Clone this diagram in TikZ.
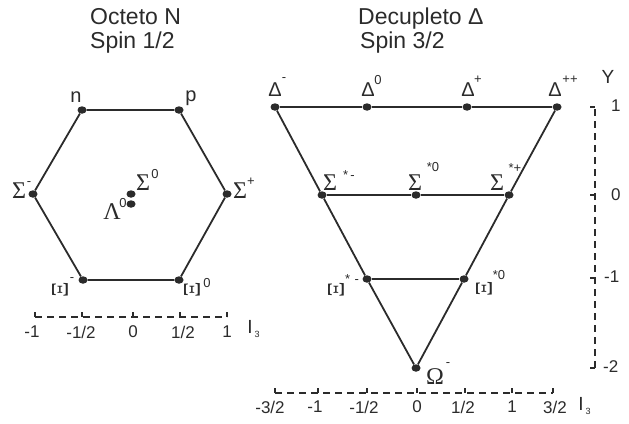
\documentclass[tikz,border=0pt]{standalone}
\usepackage{fontspec}
\setmainfont{Liberation Sans}
\newfontfamily\grfont{Liberation Serif}
\usetikzlibrary{shapes.geometric}
\definecolor{ink}{HTML}{2B2B2B}
\begin{document}
\begin{tikzpicture}[x=1pt,y=-1pt,
  conn/.style={draw=ink, line width=1.8pt},
  dot/.style={ellipse, fill=ink, draw=none, inner sep=0pt, minimum width=9pt, minimum height=7.5pt},
  txt/.style={inner sep=0pt, text=ink},
  ttl/.style={txt, anchor=base west, font=\fontsize{23}{23}\selectfont},
  ptxt/.style={txt, font=\fontsize{20}{20}\selectfont},
  gr/.style={txt, font=\grfont\fontsize{24}{24}\selectfont},
  sup/.style={txt, font=\fontsize{13}{13}\selectfont},
  ticklab/.style={txt, font=\fontsize{17}{17}\selectfont},
  axlab/.style={txt, font=\fontsize{19}{19}\selectfont},
  subl/.style={txt, font=\fontsize{9}{9}\selectfont},
  daxis/.style={draw=ink, line width=1.6pt, dash pattern=on 7pt off 5pt},
  tk/.style={draw=ink, line width=1.6pt}]
\useasboundingbox (0,0) rectangle (629,423);

% titles
\node[ttl] (t1) at (90,24) {Octeto N};
\node[ttl] (t2) at (90,48) {Spin 1/2};
\node[ttl] (t3) at (358,24) {Decupleto Δ};
\node[ttl] (t4) at (360,48) {Spin 3/2};

% ---------- octet ----------
\node[dot] (n) at (82,110) {};
\node[dot] (p) at (179,110) {};
\node[dot] (Sm) at (33,194) {};
\node[dot] (Sp) at (227,194) {};
\node[dot] (Xm) at (83,280) {};
\node[dot] (X0) at (179,280) {};
\node[dot] (S0) at (131,194) {};
\node[dot] (L0) at (131,204) {};
\draw[conn] (n) -- (p) -- (Sp) -- (X0) -- (Xm) -- (Sm) -- (n);

\node[ptxt, anchor=base] (ln) at (76,102) {n};
\node[ptxt, anchor=base] (lp) at (191,101) {p};
\node[gr] (lSm) at (19,191) {Σ};
\node[sup] (lSms) at (29,184) {-};
\node[gr] (lSp) at (240,191) {Σ};
\node[sup] (lSps) at (251,182) {+};
\node[gr] (lS0) at (143,183) {Σ};
\node[sup] (lS0s) at (155,174) {0};
\node[gr] (lL0) at (112,212) {Λ};
\node[sup] (lL0s) at (123,203) {0};
\node[gr, rotate=90] (lXm) at (60,290) {Ξ};
\node[sup] (lXms) at (72,280) {-};
\node[gr, rotate=90] (lX0) at (192,290) {Ξ};
\node[sup] (lX0s) at (207,283) {0};

% octet axis
\coordinate (oa1) at (35,317);
\coordinate (oa2) at (227,317);
\draw[daxis] (oa1) -- (oa2);
\foreach \x in {35,82,133,180,227} \draw[tk] (\x,317) -- ++(0,-5);
\node[ticklab] (o1) at (32,332) {-1};
\node[ticklab] (o2) at (81,332) {-1/2};
\node[ticklab] (o3) at (133,332) {0};
\node[ticklab] (o4) at (183,332) {1/2};
\node[ticklab] (o5) at (227,332) {1};
\node[axlab] (oI) at (250,327) {I};
\node[subl] (oIs) at (257,334) {3};

% ---------- decuplet ----------
\node[dot] (Dm) at (275,107) {};
\node[dot] (D0) at (367,107) {};
\node[dot] (Dp) at (467,107) {};
\node[dot] (Dpp) at (557,107) {};
\node[dot] (Ssm) at (322,195) {};
\node[dot] (Ss0) at (416,195) {};
\node[dot] (Ssp) at (509,195) {};
\node[dot] (Xsm) at (367,279) {};
\node[dot] (Xs0) at (464,279) {};
\node[dot] (Om) at (416,368) {};
\draw[conn] (Dm) -- (D0) -- (Dp) -- (Dpp);
\draw[conn] (Dm) -- (Ssm) -- (Xsm) -- (Om);
\draw[conn] (Dpp) -- (Ssp) -- (Xs0) -- (Om);
\draw[conn] (Ssm) -- (Ss0) -- (Ssp);
\draw[conn] (Xsm) -- (Xs0);

\node[ptxt] (lDm) at (275,90) {Δ};
\node[sup] (lDms) at (284,80) {-};
\node[ptxt] (lD0) at (368,90) {Δ};
\node[sup] (lD0s) at (378,80) {0};
\node[ptxt] (lDp) at (468,90) {Δ};
\node[sup] (lDps) at (478,80) {+};
\node[ptxt] (lDpp) at (555,90) {Δ};
\node[sup] (lDpps) at (570,80) {++};

\node[gr] (lSsm) at (330,183) {Σ};
\node[sup] (lSsms) at (349,175) {*\,-};
\node[gr] (lSs0) at (415,183) {Σ};
\node[sup] (lSs0s) at (433,167) {*0};
\node[gr] (lSsp) at (497,183) {Σ};
\node[sup] (lSsps) at (515,168) {*+};

\node[gr, rotate=90] (lXsm) at (336,290) {Ξ};
\node[sup] (lXsms) at (352,279) {*\,\,-};
\node[gr, rotate=90] (lXs0) at (484,289) {Ξ};
\node[sup] (lXs0s) at (499,275) {*0};

\node[gr] (lOm) at (435,377) {Ω};
\node[sup] (lOms) at (448,365) {-};

% Y axis
\coordinate (ya1) at (595,109);
\coordinate (ya2) at (595,368);
\draw[daxis] (ya1) -- (ya2);
\foreach \y in {107,195,278,368} \draw[tk] (590,\y) -- (595,\y);
\node[axlab] (yY) at (608,77) {Y};
\node[ticklab, anchor=west] (y1) at (611,106) {1};
\node[ticklab, anchor=west] (y0) at (611,195) {0};
\node[ticklab, anchor=west] (ym1) at (604,277) {-1};
\node[ticklab, anchor=west] (ym2) at (603,367) {-2};

% decuplet I3 axis
\coordinate (da1) at (275,393);
\coordinate (da2) at (553,393);
\draw[daxis] (da1) -- (da2);
\foreach \x in {275,318,367,417,465,512,553} \draw[tk] (\x,393) -- ++(0,-5);
\node[ticklab] (d1) at (270,407) {-3/2};
\node[ticklab] (d2) at (315,407) {-1};
\node[ticklab] (d3) at (364,407) {-1/2};
\node[ticklab] (d4) at (417,407) {0};
\node[ticklab] (d5) at (463,407) {1/2};
\node[ticklab] (d6) at (512,407) {1};
\node[ticklab] (d7) at (555,407) {3/2};
\node[axlab] (dI) at (581,404) {I};
\node[subl] (dIs) at (588,411) {3};
\end{tikzpicture}
\end{document}
